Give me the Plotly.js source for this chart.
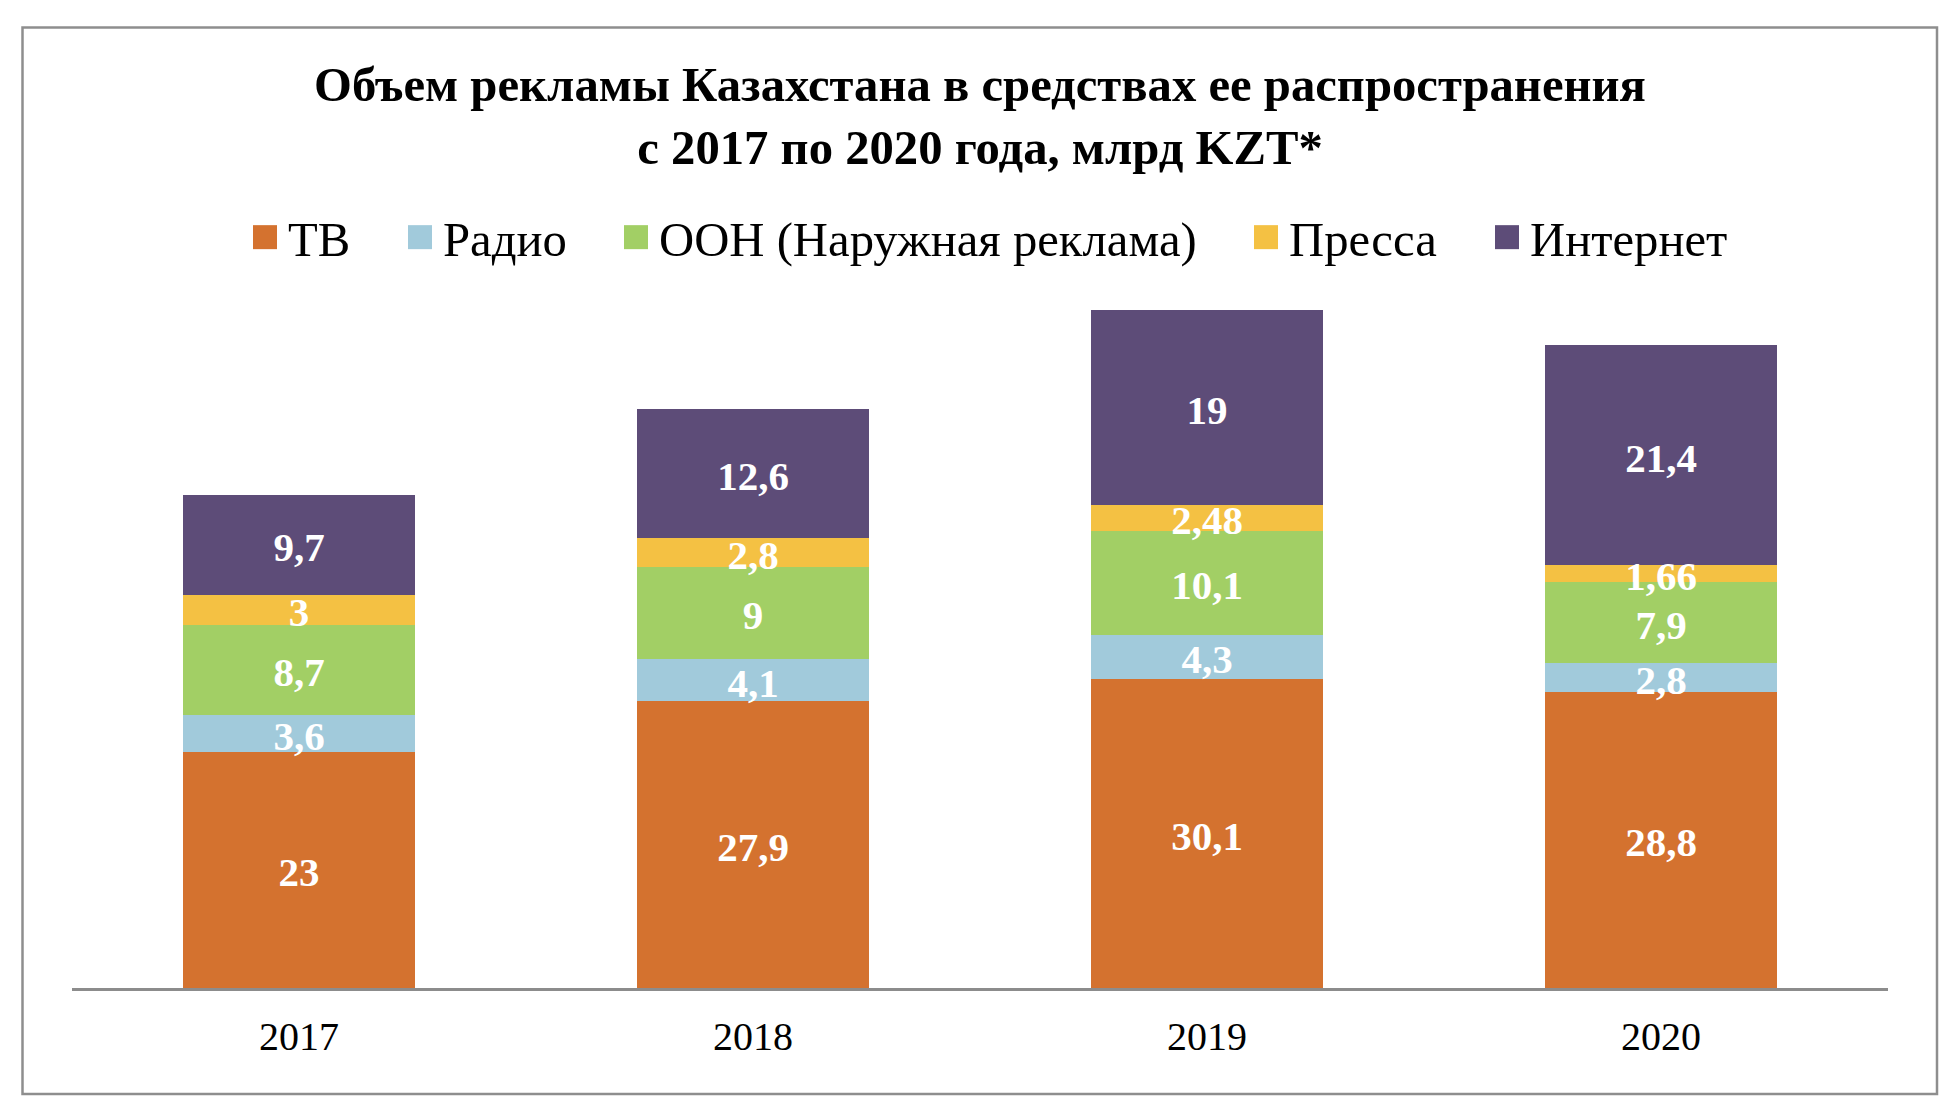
<!DOCTYPE html>
<html><head><meta charset="utf-8">
<script src="https://cdn.plot.ly/plotly-3.0.1.min.js"></script>
<style>html,body{margin:0;padding:0;background:#fff}</style>
</head><body><div id="chart" style="width:1960px;height:1109px"></div>
<script>
const years = ['2017', '2018', '2019', '2020'];
const tv = [23, 27.9, 30.1, 28.8];
const radio = [3.6, 4.1, 4.3, 2.8];
const ooh = [8.7, 9, 10.1, 7.9];
const press = [3, 2.8, 2.48, 1.66];
const internet = [9.7, 12.6, 19, 21.4];
const seriesNames = ['ТВ', 'Радио', 'ООН (Наружная реклама)', 'Пресса', 'Интернет'];
const seriesColors = ['#D4722F', '#A1CADB', '#A2CF65', '#F4C143', '#5D4C78'];
const titleText = '<b>Объем рекламы Казахстана в средствах ее распространения<br>с 2017 по 2020 года, млрд KZT*</b>';

const series = [tv, radio, ooh, press, internet];
const FONT = 'Liberation Serif, Times New Roman, serif';

const L = 72, R = 72, T = 269, B = 121;
const W = 1960, H = 1109;
const pw = W - L - R, ph = H - T - B;
const YMAX = 70;
const pxPerUnit = ph / YMAX;
const labelDrop = 6 / pxPerUnit;   // Excel-like label baseline

const legendKeys = ['legend', 'legend2', 'legend3', 'legend4', 'legend5'];
const legendTextStart = [288, 443, 659, 1289, 1530];

const traces = [];
series.forEach((vals, i) => {
  traces.push({
    type: 'bar', name: seriesNames[i], x: years, y: vals,
    legend: legendKeys[i],
    marker: {color: seriesColors[i], line: {width: 0}},
    hoverinfo: 'skip'
  });
});
const base = years.map(() => 0);
series.forEach((vals, i) => {
  const mids = vals.map((v, j) => base[j] + v / 2 - labelDrop);
  vals.forEach((v, j) => { base[j] += v; });
  traces.push({
    type: 'scatter', mode: 'text', x: years, y: mids,
    text: vals.map(v => String(v).replace('.', ',')),
    textposition: 'middle center',
    textfont: {family: FONT, size: 41, color: '#ffffff', weight: 'bold'},
    showlegend: false, hoverinfo: 'skip', cliponaxis: false
  });
});

const layout = {
  width: W, height: H,
  margin: {l: L, r: R, t: T, b: B, pad: 0},
  paper_bgcolor: '#ffffff', plot_bgcolor: '#ffffff',
  barmode: 'stack', bargap: 0.487,
  font: {family: FONT, color: '#000000'},
  title: {
    text: titleText, x: 0.5, xanchor: 'center',
    yref: 'container', y: 1 - 101 / H, yanchor: 'top',
    font: {family: FONT, size: 48.7, color: '#000000'}
  },
  showlegend: true,
  xaxis: {
    type: 'category', showgrid: false, zeroline: false,
    showline: true, linecolor: '#8c8c8c', linewidth: 3,
    ticks: '', ticklabelstandoff: 11,
    tickfont: {family: FONT, size: 40, color: '#000000'}
  },
  yaxis: {visible: false, range: [0, YMAX], fixedrange: true},
  shapes: [{
    type: 'rect', xref: 'paper', yref: 'paper',
    x0: (22.5 - L) / pw, x1: (1937 - L) / pw,
    y0: (988 - 1094) / ph, y1: (988 - 27.5) / ph,
    line: {color: '#8e8e8e', width: 2.5}, fillcolor: 'rgba(0,0,0,0)', layer: 'below'
  }]
};
legendKeys.forEach((k, i) => {
  layout[k] = {
    orientation: 'h', xref: 'paper', x: (legendTextStart[i] - 46 - L) / pw, xanchor: 'left',
    y: (988 - 237.5) / ph, yanchor: 'middle',
    font: {family: FONT, size: 48.7, color: '#000000'},
    itemwidth: 36, itemclick: false, bgcolor: 'rgba(0,0,0,0)', borderwidth: 0
  };
});
Plotly.newPlot('chart', traces, layout, {staticPlot: true, displayModeBar: false}).then(() => {
  document.querySelectorAll('#chart .legendpoints path').forEach(p => {
    p.setAttribute('d', 'M12,12H-12V-12H12Z');
    p.style.strokeWidth = '0px';
  });
});
</script></body></html>
